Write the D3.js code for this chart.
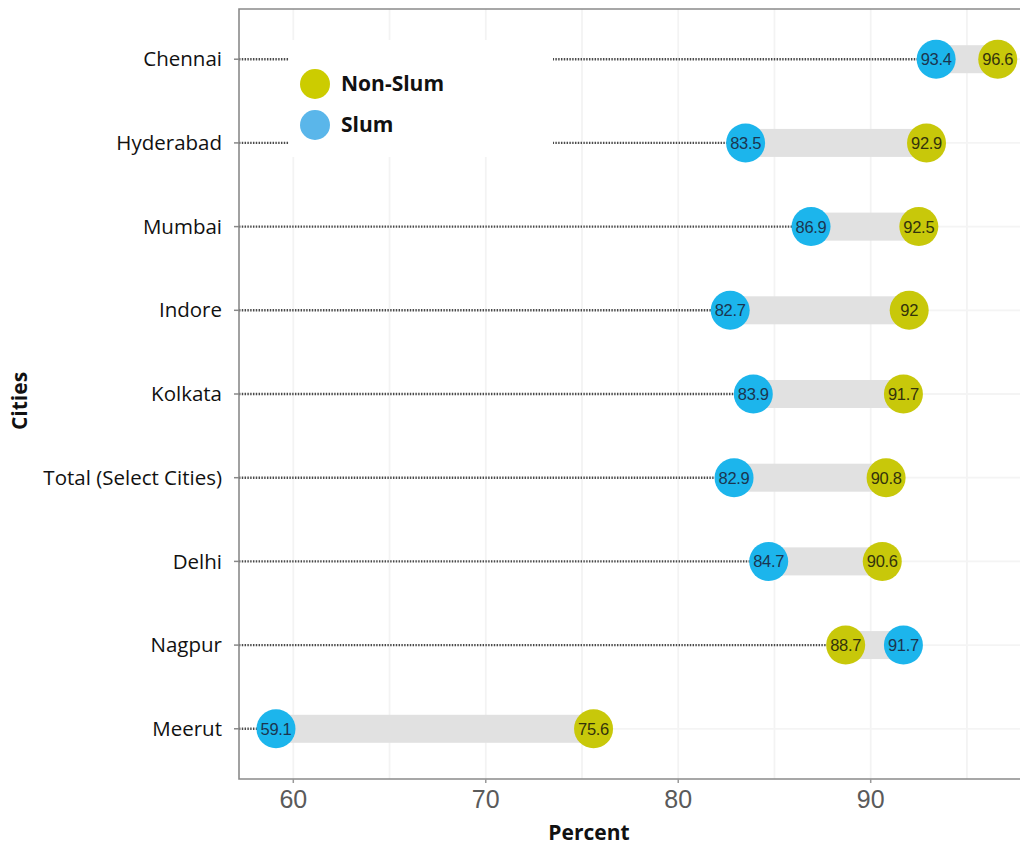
<!DOCTYPE html>
<html>
<head>
<meta charset="utf-8">
<script src="https://cdn.jsdelivr.net/npm/d3@7"></script>
<style>
  body { margin: 0; background: #fff; }
  svg { display: block; }
</style>
</head>
<body>
<svg id="chart" width="1020" height="845"></svg>
<script>
// Cities, top to bottom
const cities = ["Chennai", "Hyderabad", "Mumbai", "Indore", "Kolkata",
                "Total (Select Cities)", "Delhi", "Nagpur", "Meerut"];
const slum    = [93.4, 83.5, 86.9, 82.7, 83.9, 82.9, 84.7, 91.7, 59.1];
const nonSlum = [96.6, 92.9, 92.5, 92.0, 91.7, 90.8, 90.6, 88.7, 75.6];
const xTicks  = [60, 70, 80, 90];
const seriesNames = ["Non-Slum", "Slum"];

const colSlum = "#1cb5ec", colNon = "#c8c80a";
const legSlum = "#5ab6ea", legNon = "#cccc00";
const sans = "Open Sans, Noto Sans, sans-serif";
const arial = "Liberation Sans, Arial, sans-serif";

const svg = d3.select("#chart");
const pLeft = 239, pTop = 9, pRight = 1022, pBottom = 779;

const x = d3.scaleLinear().domain([60, 90]).range([293.3, 870.7]);
const y = d3.scalePoint().domain(cities).range([pTop, pBottom]).padding(0.6);

const rows = cities.map((c, i) => ({ city: c, slum: slum[i], non: nonSlum[i] }));

// light grid
const grid = svg.append("g");
d3.range(60, 100, 5).forEach(v => {
  grid.append("line")
    .attr("x1", x(v)).attr("x2", x(v)).attr("y1", pTop).attr("y2", pBottom)
    .attr("stroke", "#f3f3f3").attr("stroke-width", 1.8);
});
cities.forEach(c => {
  grid.append("line")
    .attr("x1", pLeft).attr("x2", pRight).attr("y1", y(c)).attr("y2", y(c))
    .attr("stroke", "#f4f4f4").attr("stroke-width", 1.8);
});

// dotted leader from axis to the lower value
svg.append("g").selectAll("line").data(rows).join("line")
  .attr("x1", pLeft).attr("x2", d => x(Math.min(d.slum, d.non)))
  .attr("y1", d => y(d.city)).attr("y2", d => y(d.city))
  .attr("stroke", "#4a4a4a").attr("stroke-width", 2.4)
  .attr("stroke-dasharray", "1.4,1.4");

// range bar between the two values
svg.append("g").selectAll("rect").data(rows).join("rect")
  .attr("x", d => x(Math.min(d.slum, d.non)))
  .attr("width", d => Math.abs(x(d.non) - x(d.slum)))
  .attr("y", d => y(d.city) - 14).attr("height", 28)
  .attr("fill", "#e1e1e1");

// points with value labels
function dots(key, color, txtColor) {
  const g = svg.append("g");
  g.selectAll("circle").data(rows).join("circle")
    .attr("cx", d => x(d[key])).attr("cy", d => y(d.city))
    .attr("r", 19.5).attr("fill", color);
  g.selectAll("text").data(rows).join("text")
    .attr("x", d => x(d[key])).attr("y", d => y(d.city))
    .attr("dy", "0.36em").attr("text-anchor", "middle")
    .attr("font-family", arial).attr("font-size", 16.5)
    .attr("letter-spacing", -0.3).attr("fill", txtColor)
    .text(d => d3.format("")(d[key]));
}
dots("slum", colSlum, "#1b3550");
dots("non", colNon, "#33330c");

// frame
svg.append("path")
  .attr("d", `M${pRight},${pTop}H${pLeft}V${pBottom}H${pRight}`)
  .attr("fill", "none").attr("stroke", "#8a8a8a").attr("stroke-width", 1.6);

// x axis ticks + labels
const xa = svg.append("g");
xTicks.forEach(v => {
  xa.append("line").attr("x1", x(v)).attr("x2", x(v))
    .attr("y1", pBottom).attr("y2", pBottom + 4).attr("stroke", "#999").attr("stroke-width", 1.5);
  xa.append("text").attr("x", x(v)).attr("y", pBottom + 29)
    .attr("text-anchor", "middle")
    .attr("font-family", arial).attr("font-size", 25).attr("fill", "#5a5a5a").text(v);
});

// y axis ticks + labels
const ya = svg.append("g");
cities.forEach(c => {
  ya.append("line").attr("x1", pLeft - 5).attr("x2", pLeft)
    .attr("y1", y(c)).attr("y2", y(c)).attr("stroke", "#888").attr("stroke-width", 1.5);
  ya.append("text").attr("x", pLeft - 17).attr("y", y(c)).attr("dy", "0.35em")
    .attr("text-anchor", "end")
    .attr("font-family", sans).attr("font-size", 20.5).attr("fill", "#111").text(c);
});

// axis titles
svg.append("text").attr("x", 589).attr("y", 840).attr("text-anchor", "middle")
  .attr("font-family", sans).attr("font-weight", "bold").attr("font-size", 21)
  .attr("fill", "#111").text("Percent");
svg.append("text").attr("transform", "translate(27,401) rotate(-90)")
  .attr("text-anchor", "middle")
  .attr("font-family", sans).attr("font-weight", "bold").attr("font-size", 21)
  .attr("fill", "#111").text("Cities");

// legend
const lg = svg.append("g");
lg.append("rect").attr("x", 289).attr("y", 40).attr("width", 264).attr("height", 117).attr("fill", "#fff");
[[legNon, 84], [legSlum, 125]].forEach(([col, cy], i) => {
  lg.append("circle").attr("cx", 315).attr("cy", cy).attr("r", 15).attr("fill", col);
  lg.append("text").attr("x", 341).attr("y", cy).attr("dy", "0.35em")
    .attr("font-family", sans).attr("font-weight", "bold").attr("font-size", 21)
    .attr("fill", "#111").text(seriesNames[i]);
});
</script>
</body>
</html>
